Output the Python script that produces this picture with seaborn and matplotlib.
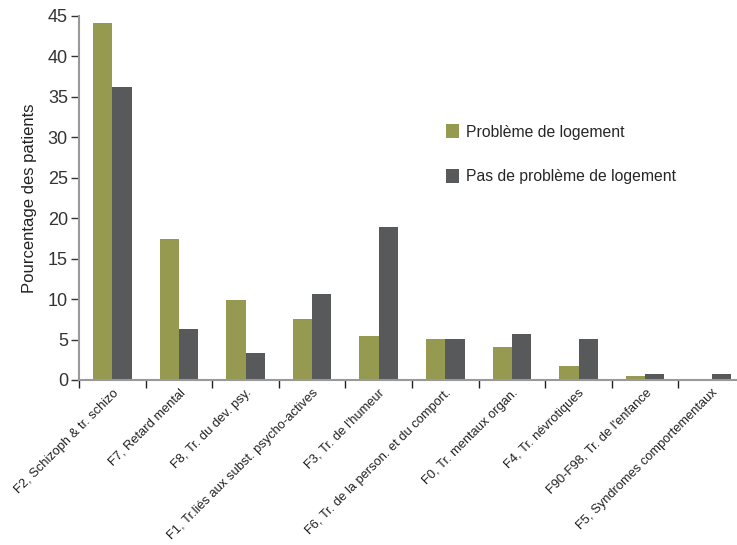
import numpy as np
import pandas as pd
import matplotlib
matplotlib.use("Agg")
import matplotlib.pyplot as plt
import seaborn as sns
from matplotlib.patches import Patch

categories = [
    "F2, Schizoph & tr. schizo",
    "F7, Retard mental",
    "F8, Tr. du dev. psy.",
    "F1, Tr.liés aux subst. psycho-actives",
    "F3, Tr. de l'humeur",
    "F6, Tr. de la person. et du comport.",
    "F0, Tr. mentaux organ.",
    "F4, Tr. névrotiques",
    "F90-F98, Tr. de l'enfance",
    "F5, Syndromes comportementaux",
]
series_names = ["Problème de logement", "Pas de problème de logement"]
logement = [44.1, 17.4, 9.9, 7.5, 5.4, 5.1, 4.1, 1.7, 0.5, 0.1]
pas_logement = [36.2, 6.3, 3.3, 10.6, 18.9, 5.1, 5.7, 5.1, 0.75, 0.75]
y_ticks = [0, 5, 10, 15, 20, 25, 30, 35, 40, 45]

COLORS = ["#959a50", "#58595b"]

df = pd.DataFrame({
    "cat": categories * 2,
    "val": logement + pas_logement,
    "grp": [series_names[0]] * len(categories) + [series_names[1]] * len(categories),
})

sns.set_theme(style="white")
plt.rcParams["font.family"] = ["Liberation Sans", "DejaVu Sans"]

fig = plt.figure(figsize=(7.37, 5.45), dpi=100)
ax = fig.add_axes([79 / 737, 1 - 380 / 545, 666 / 737, 364 / 545])

sns.barplot(data=df, x="cat", y="val", hue="grp", palette=COLORS,
            width=0.58, saturation=1, linewidth=0, ax=ax, legend=False)

ax.set_xlim(-0.5, 9.5)
ax.set_ylim(0, 45)
ax.set_yticks(y_ticks)
ax.set_yticklabels([str(v) for v in y_ticks], fontsize=13, color="#333333")
ax.set_xticks(range(len(categories)))
ax.set_xticklabels(categories, rotation=45, ha="right", rotation_mode="anchor",
                   fontsize=9.3, color="#222222")
ax.set_xticks(np.arange(-0.5, len(categories)), minor=True)
ax.tick_params(axis="x", which="major", length=0, pad=5)
ax.tick_params(axis="x", which="minor", length=6, width=1, color="#222222", direction="out", bottom=True)
ax.tick_params(axis="y", length=6, width=1, color="#333333", direction="out", left=True, pad=2)
ax.set_xlabel("")
ax.set_ylabel("Pourcentage des patients", fontsize=12, color="#222222", labelpad=8)

for s in ["top", "right"]:
    ax.spines[s].set_visible(False)
for s in ["left", "bottom"]:
    ax.spines[s].set_color("#999999")
    ax.spines[s].set_linewidth(1.5)

handles = [Patch(facecolor=c, edgecolor="none") for c in COLORS]
fig.legend(handles, series_names, loc="upper left", bbox_to_anchor=(432 / 737, 1 - 110 / 545),
           frameon=False, fontsize=11.3, handlelength=0.8, handleheight=1.0,
           handletextpad=0.45, labelspacing=1.85)

fig.savefig("out.png", dpi=100)
